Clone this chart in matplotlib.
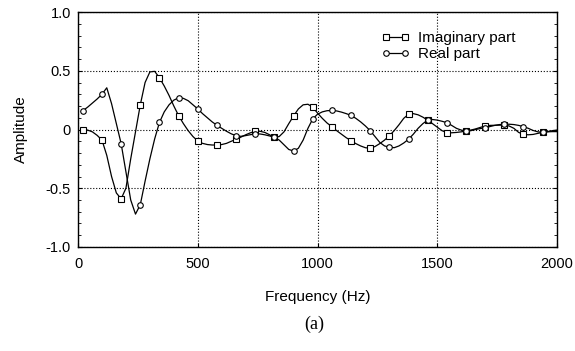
import numpy as np
import matplotlib.pyplot as plt
from matplotlib.lines import Line2D

# frequency grid (Hz), values every 20 Hz
freq = list(range(20, 2001, 20))

real_part = [0.16, 0.19, 0.225, 0.26, 0.30, 0.355, 0.22, 0.05, -0.12, -0.36,
             -0.60, -0.72, -0.64, -0.44, -0.25, -0.08, 0.06, 0.15, 0.21, 0.25,
             0.27, 0.265, 0.245, 0.21, 0.175, 0.135, 0.10, 0.065, 0.036, 0.01,
             -0.015, -0.037, -0.053, -0.058, -0.052, -0.044, -0.038, -0.038, -0.045, -0.055,
             -0.067, -0.09, -0.13, -0.17, -0.183, -0.16, -0.09, 0.01, 0.09, 0.13,
             0.15, 0.16, 0.162, 0.158, 0.148, 0.135, 0.12, 0.095, 0.065, 0.03,
             -0.01, -0.06, -0.11, -0.14, -0.15, -0.155, -0.14, -0.115, -0.083, -0.04,
             0.01, 0.05, 0.08, 0.085, 0.08, 0.07, 0.058, 0.035, 0.01, -0.005,
             -0.013, -0.01, 0.0, 0.008, 0.015, 0.025, 0.035, 0.042, 0.044, 0.045,
             0.042, 0.035, 0.024, 0.01, -0.008, -0.02, -0.024, -0.018, -0.01, -0.005]

imag_part = [0.0, -0.005, -0.02, -0.05, -0.09, -0.22, -0.40, -0.54, -0.59, -0.50,
             -0.25, -0.02, 0.21, 0.40, 0.49, 0.495, 0.44, 0.37, 0.29, 0.20,
             0.118, 0.05, -0.01, -0.06, -0.098, -0.118, -0.128, -0.132, -0.132, -0.128,
             -0.118, -0.10, -0.084, -0.065, -0.045, -0.028, -0.015, -0.015, -0.025, -0.045,
             -0.067, -0.06, -0.02, 0.05, 0.115, 0.175, 0.21, 0.215, 0.19, 0.14,
             0.095, 0.055, 0.024, -0.01, -0.04, -0.07, -0.095, -0.12, -0.14, -0.155,
             -0.16, -0.145, -0.12, -0.09, -0.053, -0.01, 0.04, 0.095, 0.13, 0.135,
             0.125, 0.105, 0.08, 0.05, 0.02, -0.01, -0.027, -0.028, -0.025, -0.02,
             -0.013, -0.005, 0.005, 0.018, 0.03, 0.035, 0.036, 0.037, 0.038, 0.03,
             0.01, -0.025, -0.041, -0.045, -0.042, -0.033, -0.024, -0.02, -0.018, -0.018]

xticks = [0, 500, 1000, 1500, 2000]
yticks = [-1.0, -0.5, 0, 0.5, 1.0]
ytick_labels = ['-1.0', '-0.5', '0', '0.5', '1.0']

plt.rcParams['font.family'] = ['Liberation Sans', 'DejaVu Sans']

fig = plt.figure(figsize=(5.75, 3.51), dpi=100)
ax = fig.add_axes([0.1357, 0.2963, 0.833, 0.6695])

mk = dict(markersize=4, markerfacecolor='white', markeredgecolor='black',
          markeredgewidth=0.8, color='black', linewidth=0.9)
ax.plot(freq, imag_part, marker='s', markevery=(0, 4), **mk)
ax.plot(freq, real_part, marker='o', markevery=(0, 4), **mk)

ax.set_xlim(0, 2000)
ax.set_ylim(-1.0, 1.0)
ax.set_xticks(xticks)
ax.set_yticks(yticks)
ax.set_yticklabels(ytick_labels)
ax.set_yticks(np.arange(-1.0, 1.01, 0.1), minor=True)
ax.tick_params(axis='both', which='both', direction='in', labelsize=10.5,
               right=True, top=False)
ax.tick_params(which='major', length=3)
ax.tick_params(which='minor', length=2)
ax.tick_params(axis='x', pad=7)
ax.tick_params(axis='y', pad=5)
ax.grid(True, which='major', linestyle=':', color='black', linewidth=0.8)
for s in ax.spines.values():
    s.set_linewidth(1.0)

ax.set_xlabel('Frequency (Hz)', fontsize=11, labelpad=14)
ax.set_ylabel('Amplitude', fontsize=11, labelpad=13)

handles = [Line2D([0], [0], marker='s', **mk), Line2D([0], [0], marker='o', **mk)]
ax.legend(handles, ['Imaginary part', 'Real part'], loc='upper left',
          bbox_to_anchor=(0.6326, 0.918), frameon=False, fontsize=11,
          numpoints=2, handlelength=1.85, handletextpad=0.6,
          labelspacing=0.12, borderaxespad=0, borderpad=0)

fig.text(0.546, 0.077, '(a)', ha='center', va='center', fontsize=13,
         family='Liberation Serif')

fig.savefig('out.png', dpi=100, facecolor='white')
